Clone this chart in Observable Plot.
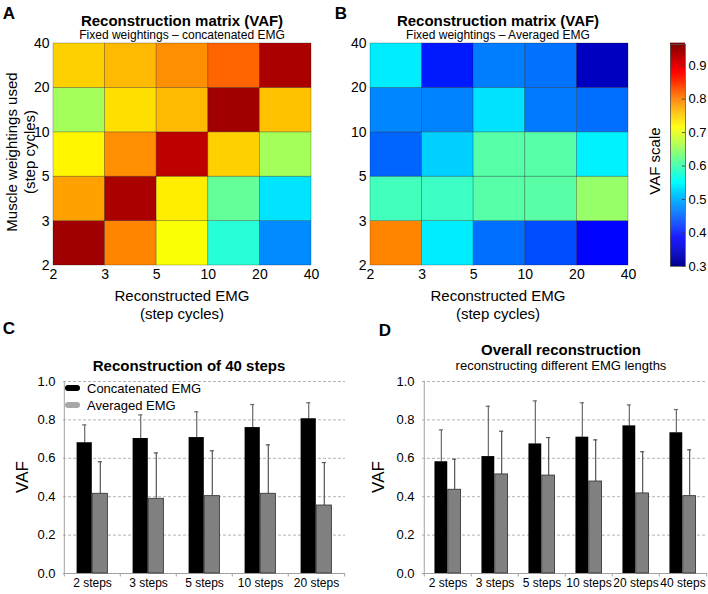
<!DOCTYPE html>
<html><head><meta charset="utf-8">
<script src="https://cdn.jsdelivr.net/npm/d3@7"></script>
<script src="https://cdn.jsdelivr.net/npm/@observablehq/plot@0.6"></script>
<style>
body{margin:0;background:#fff;font-family:"Liberation Sans",Arial,sans-serif;}
#root{position:relative;width:708px;height:594px;overflow:hidden;background:#fff;}
#root svg{position:absolute;}
.t{position:absolute;transform:translate(-50%,-50%);white-space:nowrap;color:#000;line-height:1;}
.r{position:absolute;transform:translate(-50%,-50%) rotate(-90deg);white-space:nowrap;color:#000;line-height:1;}
.b{font-weight:bold;}
.sw{position:absolute;width:15px;height:6px;border-radius:3px;transform:translateY(-50%);}
.lg{position:absolute;transform:translateY(-50%);font-size:13px;white-space:nowrap;line-height:1;}
</style></head><body><div id="root"></div>
<script>
// ---------- data ----------
const tickLabels = ["2","3","5","10","20","40"];
// matrices: rows = muscle weightings bins (bottom "2-3" first), cols = reconstructed EMG bins
const vafConcat = [
  [0.942, 0.794, 0.712, 0.574, 0.474],
  [0.775, 0.935, 0.726, 0.614, 0.531],
  [0.720, 0.787, 0.922, 0.745, 0.656],
  [0.656, 0.735, 0.760, 0.942, 0.755],
  [0.745, 0.760, 0.787, 0.815, 0.935]
];
const vafAveraged = [
  [0.794, 0.537, 0.455, 0.432, 0.385],
  [0.592, 0.587, 0.605, 0.607, 0.647],
  [0.448, 0.518, 0.605, 0.605, 0.540],
  [0.470, 0.468, 0.530, 0.463, 0.455],
  [0.537, 0.400, 0.465, 0.457, 0.336]
];
const colorbarTicks = [0.3, 0.4, 0.5, 0.6, 0.7, 0.8, 0.9];

const catsC = ["2 steps","3 steps","5 steps","10 steps","20 steps"];
const concatC = [0.681, 0.703, 0.708, 0.760, 0.806];
const concatSdC = [0.093, 0.123, 0.134, 0.120, 0.083];
const avgC = [0.415, 0.389, 0.403, 0.415, 0.354];
const avgSdC = [0.167, 0.239, 0.236, 0.255, 0.224];

const catsD = ["2 steps","3 steps","5 steps","10 steps","20 steps","40 steps"];
const concatD = [0.582, 0.609, 0.675, 0.710, 0.769, 0.733];
const concatSdD = [0.166, 0.262, 0.224, 0.179, 0.109, 0.121];
const avgD = [0.436, 0.516, 0.510, 0.479, 0.417, 0.403];
const avgSdD = [0.159, 0.225, 0.198, 0.217, 0.217, 0.241];

const vafTicks = [0, 0.2, 0.4, 0.6, 0.8, 1.0];

// ---------- helpers ----------
const root = document.getElementById("root");
const FONT = '"Liberation Sans", Arial, sans-serif';
const jet = {type: "linear",
  domain: [0.3, 0.3829, 0.5486, 0.7144, 0.8801, 0.963],
  range: ["#00008f", "#0000ff", "#00ffff", "#ffff00", "#ff0000", "#800000"],
  interpolate: "rgb"};

function place(el, left, top) { el.style.left = left + "px"; el.style.top = top + "px"; root.appendChild(el); }
function text(str, x, y, size, cls = "t") {
  const d = document.createElement("div");
  d.className = cls; d.textContent = str; d.style.fontSize = size + "px";
  d.style.left = x + "px"; d.style.top = y + "px"; root.appendChild(d); return d;
}

function heat(matrix, left) {
  const cells = matrix.flatMap((row, i) => row.map((v, j) => ({i, j, v})));
  const p = Plot.plot({
    width: 340, height: 300, marginLeft: 53, marginRight: 29, marginTop: 43, marginBottom: 35,
    style: {fontSize: "14px", fontFamily: FONT, background: "transparent", overflow: "visible", color: "#000"},
    x: {domain: [0, 5], ticks: d3.range(6), tickFormat: i => tickLabels[i], tickSize: 0, tickPadding: 4, label: null},
    y: {domain: [0, 5], ticks: d3.range(6), tickFormat: i => tickLabels[i], tickSize: 0, tickPadding: 4, label: null},
    color: jet,
    marks: [
      Plot.rect(cells, {x1: "j", x2: d => d.j + 1, y1: "i", y2: d => d.i + 1, fill: "v",
        stroke: "#000", strokeOpacity: 0.3, strokeWidth: 0.8})
    ]
  });
  place(p, left, 0);
}

function bars(cats, m1, s1, m2, s2, left, width, mL, mR, frac) {
  const data = cats.map((c, i) => ({c, m1: m1[i], e1: m1[i] + s1[i], m2: m2[i], e2: m2[i] + s2[i]}));
  const band = (width - mL - mR) / cats.length;
  const bw = band * frac;
  const outer = (band - 2 * bw) / 2;
  const cap = 2.3;
  const p = Plot.plot({
    width, height: 224, marginLeft: mL, marginRight: mR, marginTop: 11, marginBottom: 21,
    style: {fontSize: "12px", fontFamily: FONT, background: "transparent", overflow: "visible", color: "#000"},
    x: {type: "band", domain: cats, padding: 0, axis: null},
    y: {domain: [0, 1], axis: null},
    marks: [
      Plot.ruleY(vafTicks.slice(1), {stroke: "#a0a0a0", strokeDasharray: "3,2", strokeWidth: 0.8}),
      Plot.ruleY([0], {stroke: "#a0a0a0"}),
      Plot.ruleX([cats[0]], {dx: -band / 2, y1: 0, y2: 1, stroke: "#a0a0a0"}),
      Plot.ruleX(cats, {dx: -band / 2, y1: 0, y2: -0.018, stroke: "#a0a0a0"}),
      Plot.ruleX([cats[cats.length - 1]], {dx: band / 2, y1: 0, y2: -0.018, stroke: "#a0a0a0"}),
      Plot.axisX({tickSize: 0, tickPadding: 5, fontSize: 12, label: null}),
      Plot.axisY({ticks: vafTicks, tickFormat: d3.format(".1f"), tickSize: 0, tickPadding: 8, fontSize: 13, label: null}),
      Plot.ruleX(data, {x: "c", y1: "m1", y2: "e1", dx: -bw / 2, stroke: "#6a6a6a", strokeWidth: 1.2}),
      Plot.tickY(data, {x: "c", y: "e1", insetLeft: outer + bw / 2 - cap, insetRight: outer + bw + bw / 2 - cap, stroke: "#6a6a6a", strokeWidth: 1.2}),
      Plot.ruleX(data, {x: "c", y1: "m2", y2: "e2", dx: bw / 2, stroke: "#555", strokeWidth: 1.2}),
      Plot.tickY(data, {x: "c", y: "e2", insetLeft: outer + bw + bw / 2 - cap, insetRight: outer + bw / 2 - cap, stroke: "#555", strokeWidth: 1.2}),
      Plot.barY(data, {x: "c", y: "m1", fill: "#000", insetLeft: outer, insetRight: outer + bw}),
      Plot.barY(data, {x: "c", y: "m2", fill: "#808080", stroke: "#3a3a3a", strokeWidth: 0.9, insetLeft: outer + bw, insetRight: outer})
    ]
  });
  place(p, left, 370);
}

// ---------- heatmaps ----------
heat(vafConcat, 0);
heat(vafAveraged, 317);

// ---------- colorbar ----------
{
  const steps = d3.range(0, 221).map(k => 0.3 + k * (0.663 / 220));
  const cb = Plot.plot({
    width: 48, height: 246, marginLeft: 10, marginRight: 23, marginTop: 14, marginBottom: 10,
    style: {fontSize: "13px", fontFamily: FONT, background: "transparent", overflow: "visible", color: "#000"},
    x: {domain: [0, 1], axis: null},
    y: {domain: [0.3, 0.963], ticks: colorbarTicks, tickFormat: d3.format(".1f"), axis: "right", tickSize: 0, tickPadding: 3, label: null},
    color: jet,
    marks: [
      Plot.rect(steps, {x1: 0, x2: 1, y1: d => d, y2: d => d + 0.663 / 220 + 0.001, fill: d => d}),
      Plot.tickY(colorbarTicks, {y: d => d, stroke: "#333", insetLeft: 12, strokeWidth: 0.8}),
      Plot.frame({stroke: "#555", strokeWidth: 0.8})
    ]
  });
  place(cb, 660, 30);
}

// ---------- bar charts ----------
bars(catsC, concatC, concatSdC, avgC, avgSdC, 0, 350, 63, 5, 0.2766);
bars(catsD, concatD, concatSdD, avgD, avgSdD, 360, 348, 62, 1, 0.28);

// ---------- text ----------
text("A", 9, 13, 17, "t b");
text("B", 341, 13, 17, "t b");
text("C", 9, 328, 17, "t b");
text("D", 385, 330, 17, "t b");

text("Reconstruction matrix (VAF)", 182, 20, 15, "t b");
text("Fixed weightings \u2013 concatenated EMG", 182, 35, 12);
text("Reconstruction matrix (VAF)", 498, 20, 15, "t b");
text("Fixed weightings \u2013 Averaged EMG", 498, 35, 12);

text("Reconstructed EMG", 182, 295, 15);
text("(step cycles)", 182, 313, 15);
text("Reconstructed EMG", 498, 295, 15);
text("(step cycles)", 498, 313, 15);

text("Muscle weightings used", 11, 152, 15, "r");
text("(step cycles)", 29, 152, 15, "r");
text("VAF scale", 654, 161, 15, "r");

text("Reconstruction of 40 steps", 189, 365, 15, "t b");
text("Overall reconstruction", 561, 349, 15, "t b");
text("reconstructing different EMG lengths", 561, 365, 13);

text("VAF", 22, 477, 17, "r");
text("VAF", 378, 477, 17, "r");

// legend (panel C)
const legendSeries = [["Concatenated EMG", "#000"], ["Averaged EMG", "#a8a8a8"]];
legendSeries.forEach(([label, col], k) => {
  const y = 388 + k * 16.5;
  const sw = document.createElement("div"); sw.className = "sw"; sw.style.background = col;
  sw.style.left = "65px"; sw.style.top = y + "px"; root.appendChild(sw);
  const t = document.createElement("div"); t.className = "lg"; t.textContent = label;
  t.style.left = "87px"; t.style.top = y + "px"; root.appendChild(t);
});
</script></body></html>
